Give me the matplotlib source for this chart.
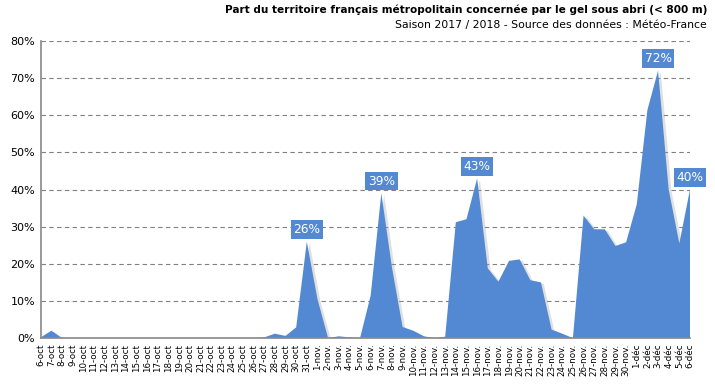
#!/usr/bin/env python
# -*- coding: utf-8 -*-

'''
Part du territoire concernee par le gel sous abri, saison 2017/2018
'''

import numpy as np
import matplotlib
matplotlib.use("Agg")
import matplotlib.pyplot as plt
import matplotlib.patheffects as pe
from matplotlib.ticker import MultipleLocator, FuncFormatter

# day labels
octDays = ["%d-oct" % d for d in range(6, 32)]
novDays = ["%d-nov." % d for d in range(1, 31)]
decDays = ["%d-déc" % d for d in range(1, 7)]
dayLabels = octDays + novDays + decDays

# frost share (%)
octValues = [0.2, 2.0, 0, 0, 0, 0, 0, 0, 0, 0, 0, 0, 0, 0, 0, 0,
             0, 0, 0, 0, 0, 0.2, 1.2, 0.6, 2.9, 26]
novValues = [10.5, 0, 0.5, 0.2, 0, 11.5, 39, 19, 3.0, 2.0,
             0.5, 0, 0.4, 31.2, 32, 43, 18.8, 15.2, 20.8, 21.2,
             15.6, 15.0, 2.3, 1.2, 0, 33, 29.3, 29.3, 24.8, 25.8]
decValues = [36, 61.4, 72, 40, 25.5, 40]
values = octValues + novValues + decValues

# points that carry a value label
labelled = ["31-oct", "7-nov.", "16-nov.", "3-déc", "6-déc"]

blue = "#5389d2"


def main():
    fig = plt.figure(figsize=(7.15, 3.86), dpi=100)
    ax = fig.add_axes([0.057, 0.124, 0.908, 0.77])

    x = np.arange(len(values))
    area = ax.fill_between(x, 0, values, color=blue, linewidth=0, zorder=3)
    area.set_path_effects([pe.SimplePatchShadow(offset=(2, -1),
                                                shadow_rgbFace="#999999",
                                                alpha=0.3),
                           pe.Normal()])

    for name in labelled:
        i = dayLabels.index(name)
        ax.annotate("%d%%" % round(values[i]), (i, values[i]),
                    xytext=(0, 4), textcoords="offset points",
                    ha="center", va="bottom", color="white", fontsize=8.8,
                    bbox=dict(boxstyle="square,pad=0.22", fc=blue, ec="none"),
                    zorder=5)

    ax.set_xlim(0, len(values) - 1)
    ax.set_ylim(0, 80)
    ax.yaxis.set_major_locator(MultipleLocator(10))
    ax.yaxis.set_major_formatter(FuncFormatter(lambda v, p: "%d%%" % v))
    ax.set_xticks(x)
    ax.set_xticklabels(dayLabels, rotation=90, fontsize=6.3)
    ax.tick_params(axis="both", length=0, pad=4)
    ax.tick_params(axis="y", labelsize=8)

    ax.grid(axis="y", linestyle=(0, (4, 3)), linewidth=0.8, color="#808080",
            zorder=1)
    ax.set_axisbelow(True)
    for side in ["top", "right"]:
        ax.spines[side].set_visible(False)
    for side in ["left", "bottom"]:
        ax.spines[side].set_color("#888888")
        ax.spines[side].set_linewidth(1.2)
        ax.spines[side].set_zorder(4)

    fig.text(0.989, 0.988, "Part du territoire français métropolitain concernée par le gel sous abri (< 800 m)",
             ha="right", va="top", fontsize=7.6, fontweight="bold")
    fig.text(0.989, 0.948, "Saison 2017 / 2018 - Source des données : Météo-France",
             ha="right", va="top", fontsize=7.8)

    fig.savefig("out.png", dpi=100)


if (__name__ == "__main__"):
    main()
